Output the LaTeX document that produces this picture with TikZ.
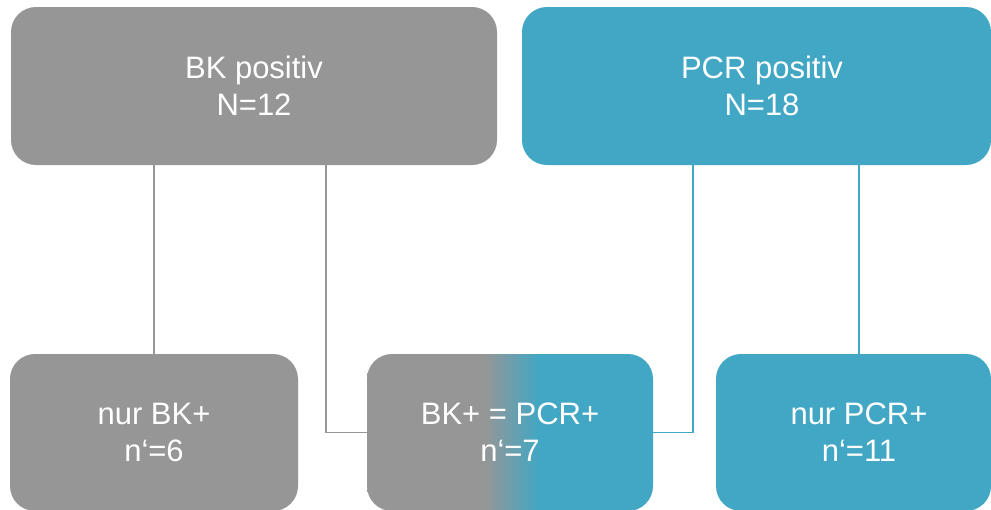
\documentclass[tikz,border=0pt]{standalone}
\usepackage{fontspec}
\setmainfont{Liberation Sans}
\definecolor{bkgray}{RGB}{150,150,150}
\definecolor{pcrteal}{RGB}{66,167,196}
\pgfdeclarehorizontalshading{bkpcr}{100bp}{color(0bp)=(bkgray); color(45.5bp)=(bkgray); color(55bp)=(pcrteal); color(100bp)=(pcrteal)}
\tikzset{
  box/.style={rounded corners=25pt, inner sep=0pt, text=white, align=center,
    font=\fontsize{31}{37}\selectfont},
  txt/.style={text=white, align=center, inner sep=0pt, font=\fontsize{31}{37}\selectfont},
  gline/.style={draw=bkgray, line width=1.5pt},
  tline/.style={draw=pcrteal, line width=1.5pt}
}
\begin{document}
\begin{tikzpicture}[x=1pt,y=-1pt]
\useasboundingbox (0,0) rectangle (991,509);
\clip (0,0) rectangle (991,509);
\fill[white] (0,0) rectangle (991,509);
% top boxes
\node[box, fill=bkgray, minimum width=486pt, minimum height=158pt] (bkpos) at (254,86) {BK positiv\\N=12};
\node[box, fill=pcrteal, minimum width=469pt, minimum height=158pt,
  label={[txt, xshift=5.5pt]center:PCR positiv\\N=18}] (pcrpos) at (756.5,86) {};
% bottom boxes
\node[box, fill=bkgray, minimum width=288pt, minimum height=157pt] (nurbk) at (154,432.5) {nur BK+\\n‘=6};
\node[box, shading=bkpcr, minimum width=286pt, minimum height=157pt] (both) at (510,432.5) {BK+ = PCR+\\n‘=7};
\node[box, fill=pcrteal, minimum width=275pt, minimum height=157pt,
  label={[txt, xshift=5.5pt]center:nur PCR+\\n‘=11}] (nurpcr) at (853.5,432.5) {};
% connectors
\draw[gline] (nurbk.north |- bkpos.south) -- (nurbk.north);
\draw[gline] ([xshift=72pt]bkpos.south) |- (both.west);
\draw[tline] ([xshift=-63.5pt]pcrpos.south) |- (both.east);
\draw[tline] ([xshift=5.5pt]nurpcr.north |- pcrpos.south) -- ([xshift=5.5pt]nurpcr.north);
\end{tikzpicture}
\end{document}
